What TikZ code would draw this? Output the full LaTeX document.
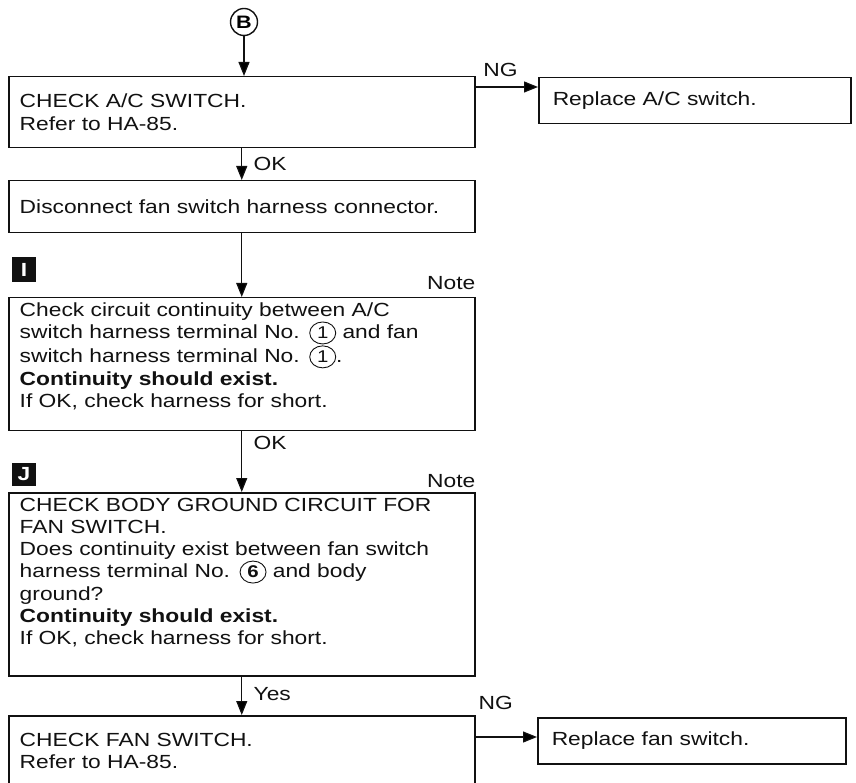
\documentclass[tikz,border=0pt]{standalone}
\usepackage{fontspec}
\setmainfont{Liberation Sans}[FakeStretch=1.2]
\usetikzlibrary{arrows.meta, positioning, calc, shapes.geometric}
\definecolor{inkblack}{RGB}{17,17,17}

% circled terminal number
\newcommand{\termno}[2][]{\tikz[baseline=(t.base)]\node[ellipse, draw=inkblack, line width=0.9pt, inner sep=0pt, minimum width=26pt, minimum height=22pt, font=\fontsize{17}{17}\selectfont#1] (t) {#2};}

\begin{document}
\begin{tikzpicture}[x=1pt, y=-1pt,
    flow/.style={-{Triangle[length=14pt, width=11pt]}, line width=1.2pt, draw=inkblack},
    stepbox/.style={draw=inkblack, line width=1.5pt, anchor=north west, align=left,
        text width=444pt, inner xsep=11pt, inner ysep=5pt, text=inkblack,
        font=\fontsize{19}{22.3}\selectfont},
    sidebox/.style={draw=inkblack, line width=1.5pt, anchor=north west, align=left,
        text width=#1, inner xsep=14pt, text=inkblack, minimum height=46pt,
        font=\fontsize{19}{22.3}\selectfont},
    tag/.style={fill=inkblack, text=white, minimum width=24pt, minimum height=25pt,
        inner sep=0pt, font=\fontsize{19}{19}\selectfont\bfseries},
    lbl/.style={text=inkblack, font=\fontsize{19}{19}\selectfont}]
    \useasboundingbox (0,0) rectangle (856,783);
    \clip (0,0) rectangle (856,783);

    % entry point
    \node[circle, draw=inkblack, line width=1.4pt, minimum size=27pt, inner sep=0pt,
        font=\fontsize{18}{18}\selectfont\bfseries] (cirB) at (244,22) {B};

    % main column
    \node[stepbox, minimum height=71pt] (chkac) at (8,76)
        {CHECK A/C SWITCH.\\Refer to HA-85.};
    \node[stepbox, minimum height=52pt] (discon) at (8,180)
        {Disconnect fan switch harness connector.};
    \node[stepbox, text depth=109pt] (chkcont) at (8,297)
        {Check circuit continuity between A/C\\
         switch harness terminal No. \termno{1} and fan\\
         switch harness terminal No. \termno{1}.\\
         \textbf{Continuity should exist.}\\
         If OK, check harness for short.};
    \node[stepbox, text depth=160pt] (chkgnd) at (8,492)
        {CHECK BODY GROUND CIRCUIT FOR\\
         FAN SWITCH.\\
         Does continuity exist between fan switch\\
         harness terminal No. \termno[\bfseries]{6} and body\\
         ground?\\
         \textbf{Continuity should exist.}\\
         If OK, check harness for short.};
    \node[stepbox, minimum height=71pt] (chkfan) at (8,715)
        {CHECK FAN SWITCH.\\Refer to HA-85.};

    % replace boxes
    \node[sidebox=284pt] (repac) at (538,77) {Replace A/C switch.};
    \node[sidebox=280pt] (repfan) at (537,717) {Replace fan switch.};

    % step tags and notes
    \node[tag] (tagI) at (24,270) {I};
    \node[tag, minimum height=23pt] (tagJ) at (24,474) {J};
    \node[lbl, anchor=base east, inner sep=0pt] (note1) at ($(chkcont.north east)+(0,-7)$) {Note};
    \node[lbl, anchor=base east, inner sep=0pt] (note2) at ($(chkgnd.north east)+(0,-5)$) {Note};

    % connectors
    \draw[flow] (cirB.south) -- (cirB.south |- chkac.north);
    \draw[flow] (chkac) -- (discon) node[lbl, midway, right=8pt] {OK};
    \draw[flow] (discon) -- (chkcont);
    \draw[flow] (chkcont) -- (chkgnd) node[lbl, pos=0.19, right=8pt] {OK};
    \draw[flow] (chkgnd) -- (chkfan) node[lbl, pos=0.45, right=8pt] {Yes};

    \coordinate (ng1) at ($(chkac.north east)+(0,11)$);
    \coordinate (ng2) at ($(chkfan.north east)+(0,22)$);
    \draw[flow] (ng1) -- (ng1 -| repac.west) node[lbl, pos=0.4, above=6pt] {NG};
    \draw[flow] (ng2) -- (ng2 -| repfan.west) node[lbl, pos=0.33, above=23pt] {NG};
\end{tikzpicture}
\end{document}
